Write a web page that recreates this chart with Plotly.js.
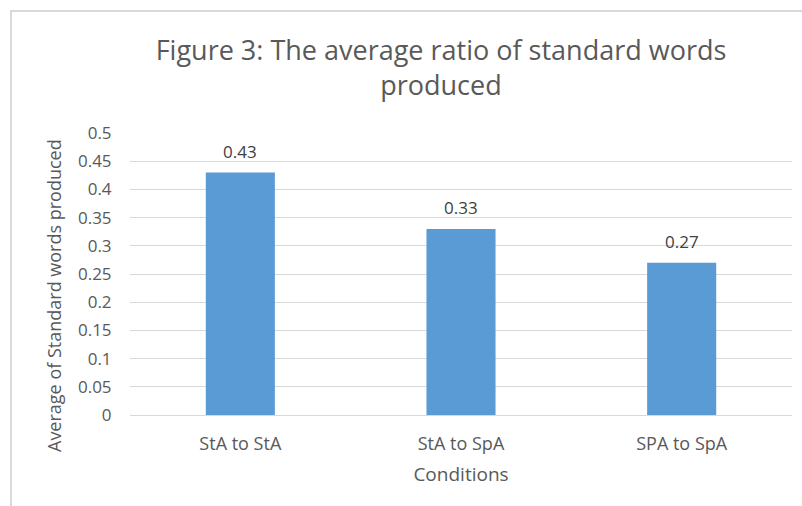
<!DOCTYPE html>
<html><head><meta charset="utf-8">
<script src="https://cdn.plot.ly/plotly-3.0.1.min.js"></script>
<style>
body{margin:0;background:#fff}
#wrap{position:relative;width:802px;height:506px;overflow:hidden}
#chart{width:802px;height:506px}
#frame{position:absolute;left:10px;top:10px;width:900px;height:600px;border-top:2px solid #d9d9d9;border-left:2px solid #d9d9d9;pointer-events:none}
</style>
</head><body><div id="wrap"><div id="chart"></div><div id="frame"></div></div>
<script>
const categories = ["StA to StA", "StA to SpA", "SPA to SpA"];
const values = [0.43, 0.33, 0.27];
const labels = ["0.43", "0.33", "0.27"];
const yTicks = [0, 0.05, 0.1, 0.15, 0.2, 0.25, 0.3, 0.35, 0.4, 0.45, 0.5];
const yTickText = ["0", "0.05", "0.1", "0.15", "0.2", "0.25", "0.3", "0.35", "0.4", "0.45", "0.5"];

const font = "Open Sans, sans-serif";
const L = 130, R = 10, T = 133, B = 91, W = 802, H = 506;
const ph = H - T - B, pw = W - L - R;

const annots = categories.map((c, i) => ({
  x: c, y: values[i], text: labels[i], showarrow: false,
  yanchor: "middle", yshift: 21,
  font: {family: font, size: 17, color: "#404040"}
}));
annots.push({
  xref: "paper", yref: "paper", x: (54 - L) / pw, y: (H - B - 296) / ph,
  xanchor: "center", yanchor: "middle", textangle: -90, showarrow: false,
  text: "Average of Standard words produced",
  font: {family: font, size: 18, color: "#595959"}
});

Plotly.newPlot("chart", [{
  type: "bar", x: categories, y: values,
  marker: {color: "#5B9BD5"},
  hoverinfo: "none"
}], {
  width: W, height: H,
  margin: {l: L, r: R, t: T, b: B},
  paper_bgcolor: "#fff", plot_bgcolor: "#fff",
  bargap: 0.687,
  title: {text: "Figure 3: The average ratio of standard words<br>produced",
    font: {family: font, size: 27, color: "#595959"},
    x: 441 / W, xref: "container", xanchor: "center",
    y: 1 - 60 / H, yref: "container", yanchor: "top"},
  xaxis: {tickfont: {family: font, size: 18, color: "#595959"}, showline: true, linecolor: "#d9d9d9",
    ticks: "outside", ticklen: 12, tickcolor: "rgba(0,0,0,0)",
    title: {text: "Conditions", font: {family: font, size: 19, color: "#595959"}, standoff: 14}},
  yaxis: {range: [0, 0.5], tickvals: yTicks, ticktext: yTickText, showgrid: true, gridcolor: "#d9d9d9",
    zeroline: false, ticks: "outside", ticklen: 14, tickcolor: "rgba(0,0,0,0)",
    tickfont: {family: font, size: 17, color: "#595959"}},
  annotations: annots,
  showlegend: false
}, {staticPlot: true});
</script></body></html>
